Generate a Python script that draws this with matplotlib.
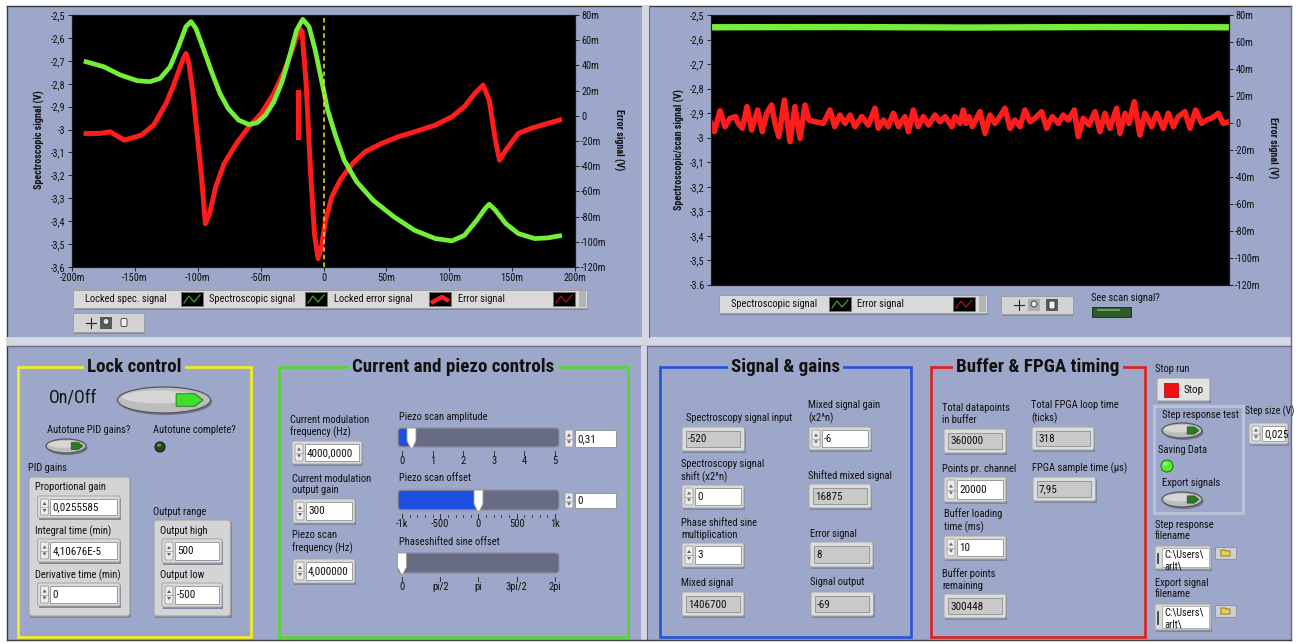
import matplotlib.pyplot as plt
from matplotlib import font_manager
from matplotlib.patches import Rectangle, FancyBboxPatch, Ellipse, Polygon, Circle

# ==========================================
# data
# ==========================================
# left chart: piezo scan (mV) -> spectroscopic signal (V) and error signal (mV)
spec_x = [-188.8, -174.6, -161.5, -148.0, -138.0, -130.0, -122.0, -115.3, -109.4, -105.4,
          -101.5, -95.6, -89.0, -82.4, -75.8, -67.5, -59.3, -52.7, -46.1, -39.5,
          -32.9, -26.4, -21.4, -16.5, -11.5, -6.6, -1.6, 3.3, 9.9, 16.5,
          26.4, 39.5, 56.0, 72.5, 89.0, 102.1, 112.0, 121.9, 128.5, 131.8,
          136.7, 145.0, 154.9, 168.0, 178.0, 187.8]
spec_v = [-2.704, -2.726, -2.762, -2.787, -2.791, -2.777, -2.726, -2.638, -2.551, -2.529,
          -2.558, -2.646, -2.748, -2.842, -2.908, -2.959, -2.978, -2.970, -2.937, -2.879,
          -2.791, -2.668, -2.566, -2.519, -2.551, -2.653, -2.784, -2.915, -3.032, -3.134,
          -3.228, -3.309, -3.381, -3.440, -3.476, -3.486, -3.462, -3.396, -3.345, -3.326,
          -3.352, -3.411, -3.454, -3.476, -3.473, -3.464]

err_x = [-188.8, -178.0, -169.7, -158.2, -145.0, -135.0, -125.2, -118.6, -112.0, -109.4,
         -107.0, -103.8, -100.5, -97.2, -93.9, -90.6, -85.7, -79.0, -69.2, -59.3,
         -49.4, -39.5, -29.7, -23.1, -19.1, -17.1, -13.8, -10.5, -7.2, -4.3,
         -1.6, 1.6, 6.6, 13.2, 23.1, 33.0, 46.1, 59.3, 72.5, 89.0,
         102.1, 112.0, 120.3, 126.9, 131.8, 136.7, 140.0, 145.0, 154.9, 164.7,
         178.0, 187.8]
err_mv = [-14.0, -14.0, -12.7, -19.3, -15.4, -7.4, 9.8, 25.7, 44.2, 49.5,
          41.6, 17.7, -14.0, -45.8, -85.6, -77.6, -56.4, -37.9, -22.0, -8.7,
          1.9, 17.7, 38.9, 57.5, 69.4, 66.8, 25.7, -40.5, -93.5, -113.4,
          -104.1, -82.9, -64.4, -51.1, -37.9, -28.6, -22.0, -16.7, -12.7, -7.4,
          -0.8, 7.2, 17.7, 24.4, 12.5, -19.3, -35.2, -27.3, -14.0, -10.1,
          -6.1, -3.4]

locked_err_x = [-20.0, -20.0]
locked_err_mv = [19.1, -16.7]

# right chart: locked signals vs sample index
lock_idx = [0, 6.4, 17.4, 27, 36.7, 47.6, 52.5, 60.5, 69.5, 78.5,
            90, 99, 107.5, 117, 123.5, 131, 141.5, 152.5, 162, 172,
            181.5, 189, 201, 217, 229.7, 239, 249, 259, 268.5, 278,
            291, 303.7, 316.6, 323, 333, 342, 352, 362, 374.5, 381,
            390.6, 400, 410, 420, 432.4, 442, 452, 465, 471, 480.7,
            487, 492, 498, 504.5, 519.3, 529, 538.6, 548.2, 557.9, 567.5,
            577.2, 586.8, 596.5, 606, 615.8, 625.4, 638.3, 648, 658.9, 670.5,
            680, 689.8, 701.4, 709, 718.7, 729.7, 741.3, 751, 760.6, 770.2,
            783, 789.5, 799.2, 807, 817.2, 828, 837.8, 850.7, 860.3, 873.2,
            882.8, 892.5, 902, 915, 924.7, 935.6, 947.2, 956.8, 966.5, 979.3,
            989, 1000]
lock_err_mv = [-0.3, -6.4, 9.1, -2.7, 3.4, 4.7, -0.3, -3.9, 12.1, -5.2,
               9.6, -6.4, 7.2, 13.3, -0.3, -10.1, 17.0, -13.8, 12.1, -11.4,
               13.3, 2.2, 1.0, -0.3, 9.6, -2.7, 5.9, -0.3, 5.9, -2.7,
               4.7, -1.5, 10.9, -3.9, 2.2, -2.7, 7.2, -2.7, 4.7, -6.4,
               9.6, -2.7, 4.7, -1.5, 5.9, 1.0, 4.7, -2.7, 4.7, -0.3,
               9.6, -0.3, 4.7, -2.7, 8.4, -7.7, 5.9, -0.3, 4.7, 10.9,
               -3.9, 2.2, -2.7, 9.6, 1.0, 3.5, 8.4, -3.9, 4.7, -0.3,
               5.9, 2.2, 9.6, -10.1, 3.5, -1.5, 8.4, -6.4, 7.2, -3.9,
               10.9, -7.7, 7.2, -0.3, 15.8, -8.9, 7.2, -2.7, 7.2, -3.9,
               7.2, -2.7, 4.7, 8.4, -3.9, 9.6, -0.3, 2.2, 3.5, 7.2,
               -0.3, 1.0]
lock_spec_idx = [0, 250, 500, 750, 1000]
lock_spec_v = [-2.550, -2.549, -2.551, -2.549, -2.550]

# axis ticks
scan_ticks = [-200, -150, -100, -50, 0, 50, 100, 150, 200]
scan_tick_labels = ['-200m', '-150m', '-100m', '-50m', '0', '50m', '100m', '150m', '200m']
spec_ticks = [-2.5, -2.6, -2.7, -2.8, -2.9, -3.0, -3.1, -3.2, -3.3, -3.4, -3.5, -3.6]
spec_tick_labels = ['-2,5', '-2,6', '-2,7', '-2,8', '-2,9', '-3', '-3,1', '-3,2', '-3,3',
                    '-3,4', '-3,5', '-3,6']
spec_tick_labels_r = spec_tick_labels[:-1] + ['-3.6']
err_ticks = [80, 60, 40, 20, 0, -20, -40, -60, -80, -100, -120]
err_tick_labels = ['80m', '60m', '40m', '20m', '0', '-20m', '-40m', '-60m', '-80m',
                   '-100m', '-120m']

# slider settings
amp_value = 0.31
amp_ticks = [0, 1, 2, 3, 4, 5]
offset_value = 0
offset_ticks = [-1000, -500, 0, 500, 1000]
offset_labels = ['-1k', '-500', '0', '500', '1k']
phase_value = 0
phase_ticks = [0, 0.25, 0.5, 0.75, 1.0]
phase_labels = ['0', 'pi/2', 'pi', '3pi/2', '2pi']

# ==========================================
# fonts: LabVIEW uses a narrow UI face, take the narrowest one installed
# ==========================================
installed = {f.name for f in font_manager.fontManager.ttflist}
if 'Liberation Sans Narrow' in installed:
    FONT, FS = 'Liberation Sans Narrow', 7.8
elif 'Roboto Condensed' in installed:
    FONT, FS = 'Roboto Condensed', 7.6
else:
    FONT, FS = 'Roboto', 6.9
plt.rcParams['font.family'] = [FONT, 'DejaVu Sans']

W, H = 1299, 643
PANEL = '#9DA7C9'
SEP = '#D5D7E1'
GREEN = '#74EE38'
RED = '#FF1C1C'

fig = plt.figure(figsize=(W / 100, H / 100), dpi=100)
bg = fig.add_axes([0, 0, 1, 1], zorder=0)
bg.set_xlim(0, W)
bg.set_ylim(H, 0)
bg.axis('off')


def rect(x0, y0, x1, y1, fc, ec='none', lw=0.8, r=0, z=1):
    if r:
        p = FancyBboxPatch((x0, y0), x1 - x0, y1 - y0,
                           boxstyle='round,pad=0,rounding_size=%g' % r,
                           fc=fc, ec=ec, lw=lw, zorder=z)
    else:
        p = Rectangle((x0, y0), x1 - x0, y1 - y0, fc=fc, ec=ec, lw=lw, zorder=z)
    bg.add_patch(p)
    return p


def txt(x, y, s, size=None, **kw):
    kw.setdefault('va', 'center')
    kw.setdefault('ha', 'left')
    kw.setdefault('color', '#111111')
    return bg.text(x, y, s, fontsize=size or FS, linespacing=1.2, zorder=6, **kw)


def spin(x0, y0, y1):
    # up/down arrow buttons
    rect(x0, y0, x0 + 8, y1, '#ECECEC', '#9E9E9E', 0.6, r=1, z=4)
    ym = (y0 + y1) / 2
    bg.plot([x0, x0 + 8], [ym, ym], color='#9E9E9E', lw=0.5, zorder=5)
    bg.add_patch(Polygon([(x0 + 2, ym - 2), (x0 + 6, ym - 2), (x0 + 4, ym - 5)],
                         fc='#606060', ec='none', zorder=5))
    bg.add_patch(Polygon([(x0 + 2, ym + 2), (x0 + 6, ym + 2), (x0 + 4, ym + 5)],
                         fc='#606060', ec='none', zorder=5))


def field(x0, y0, x1, y1, text, fc):
    f = rect(x0, y0, x1, y1, fc, '#8E8E8E', 0.6, z=4)
    t = txt(x0 + 2, (y0 + y1) / 2 + 0.5, text, size=FS + 0.4)
    t.set_clip_path(f)


def numctrl(x0, y0, x1, y1, text):
    rect(x0 + 1.5, y0 + 1.5, x1 + 1.5, y1 + 1.5, '#7F879F', z=2)
    rect(x0, y0, x1, y1, '#DADADA', '#A6A6A6', 0.7, r=2, z=3)
    spin(x0 + 3, y0 + 3, y1 - 3)
    field(x0 + 13, y0 + 3, x1 - 3, y1 - 3, text, 'white')


def indicator(x0, y0, x1, y1, text):
    rect(x0 + 1.5, y0 + 1.5, x1 + 1.5, y1 + 1.5, '#7F879F', z=2)
    rect(x0, y0, x1, y1, '#DCDCDC', '#A6A6A6', 0.7, r=2, z=3)
    field(x0 + 4, y0 + 4, x1 - 4, y1 - 4, text, '#C9C9C9')


def small_num(x0, y0, x1, y1, text):
    spin(x0, y0, y1)
    field(x0 + 10, y0, x1, y1, text, 'white')


def toggle(cx, cy, w, h, arrow):
    bg.add_patch(Ellipse((cx + 1.5, cy + 2), w, h, fc='#6E7590', ec='none', zorder=3))
    bg.add_patch(Ellipse((cx, cy), w, h, fc='#BDBDBD', ec='#555555', lw=0.9, zorder=4))
    bg.add_patch(Ellipse((cx - w * 0.05, cy - h * 0.12), w * 0.8, h * 0.5,
                         fc='#D6D6D6', ec='none', zorder=4))
    a0, a1, ah = cx + w * 0.13, cx + w * 0.42, h * 0.24
    bg.add_patch(Polygon([(a0, cy - ah), (a1 - ah * 1.3, cy - ah), (a1, cy),
                          (a1 - ah * 1.3, cy + ah), (a0, cy + ah)],
                         fc=arrow, ec='#1C4F14', lw=0.5, zorder=5))


def led(cx, cy, r, fc, ec):
    bg.add_patch(Circle((cx, cy), r, fc=fc, ec=ec, lw=0.8, zorder=4))
    bg.add_patch(Ellipse((cx - r * 0.2, cy - r * 0.35), r * 0.9, r * 0.6,
                         fc='white', alpha=0.35, ec='none', zorder=5))


def slider(x0, y0, x1, y1, vmin, vmax, value, ticks, labels, minor=None):
    p0, p1 = 402, 555

    def pos(v):
        return p0 + (v - vmin) / (vmax - vmin) * (p1 - p0)

    rect(x0, y0, x1, y1, '#686B84', '#8C8FA6', 0.8, r=3, z=3)
    xv = pos(value)
    if xv > x0 + 2:
        rect(x0 + 1, y0 + 1, xv, y1 - 1, '#1D4FE2', r=2, z=4)
    bg.add_patch(Polygon([(xv - 4.5, y0), (xv + 4.5, y0), (xv + 4.5, y1 - 6),
                          (xv + 1, y1 + 1), (xv - 1, y1 + 1), (xv - 4.5, y1 - 6)],
                         closed=True, fc='white', ec='#9A9A9A', lw=0.6, zorder=5))
    if minor is not None:
        for m in minor:
            bg.plot([pos(m), pos(m)], [y1 + 5, y1 + 7], color='#333333', lw=0.6, zorder=4)
    for t, lab in zip(ticks, labels):
        bg.plot([pos(t), pos(t)], [y1 + 4, y1 + 8], color='#333333', lw=0.7, zorder=4)
        txt(pos(t), y1 + 14, lab, ha='center')


def group(x0, y0, x1, y1, color, title):
    rect(x0, y0, x1, y1, 'none', color, 1.9, z=2)
    txt((x0 + x1) / 2, y0, title, size=FS * 1.8, ha='center', fontweight='bold',
        bbox=dict(fc=PANEL, ec='none', pad=2.5))


def legend_icon(x0, y0, kind):
    rect(x0, y0, x0 + 22, y0 + 14, 'black', '#777777', 0.5, z=4)
    if kind == 'zig':
        bg.plot([x0 + 3, x0 + 8, x0 + 13, x0 + 19], [y0 + 11, y0 + 4, y0 + 10, y0 + 3],
                color='#3FA22C', lw=0.9, zorder=5)
    elif kind == 'zig_red':
        bg.plot([x0 + 3, x0 + 8, x0 + 13, x0 + 19], [y0 + 11, y0 + 4, y0 + 10, y0 + 3],
                color='#B21313', lw=0.9, zorder=5)
    else:
        bg.plot([x0 + 2, x0 + 13, x0 + 20], [y0 + 11, y0 + 5, y0 + 9],
                color=RED, lw=3.2, zorder=5, solid_capstyle='butt')


def legend_bar(x0, y0, x1, y1, items):
    rect(x0 + 1, y0 + 1.5, x1 + 1, y1 + 1.5, '#7F879F', z=2)
    rect(x0, y0, x1, y1, '#D9D9D9', '#A0A0A0', 0.7, z=3)
    rect(x1 - 8, y0 + 1, x1 - 1, y1 - 1, '#B4B4B4', z=3)
    for tx, label, ix, kind in items:
        txt(tx, (y0 + y1) / 2, label)
        legend_icon(ix, (y0 + y1) / 2 - 7, kind)


def tool_palette(x0, y0, x1, y1, hand_on):
    rect(x0 + 1, y0 + 1.5, x1 + 1, y1 + 1.5, '#7F879F', z=2)
    rect(x0, y0, x1, y1, '#D2D2D2', '#A0A0A0', 0.7, z=3)
    cy = (y0 + y1) / 2
    cx = x0 + 18
    bg.plot([cx - 5, cx + 5], [cy, cy], color='#222222', lw=0.8, zorder=5)
    bg.plot([cx, cx], [cy - 5, cy + 5], color='#222222', lw=0.8, zorder=5)
    zx = x0 + 33
    rect(zx - 6, cy - 6, zx + 6, cy + 6, '#B0B0B0' if hand_on else '#5A5A5A', z=4)
    bg.add_patch(Circle((zx, cy - 1), 3, fc='#DDE8DD', ec='#333333', lw=0.6, zorder=5))
    hx = x0 + 51
    rect(hx - 6, cy - 6, hx + 6, cy + 6, '#5A5A5A' if hand_on else '#D2D2D2', z=4)
    rect(hx - 3, cy - 4, hx + 3, cy + 4, '#F0F0F0', '#333333', 0.6, r=1.5, z=5)


def folder_button(x0, y0):
    rect(x0, y0, x0 + 21, y0 + 12, '#CFCFCF', '#8E8E8E', 0.6, z=4)
    bg.add_patch(Polygon([(x0 + 6, y0 + 9), (x0 + 6, y0 + 3), (x0 + 10, y0 + 3),
                          (x0 + 11, y0 + 4), (x0 + 15, y0 + 4), (x0 + 15, y0 + 9)],
                         fc='#F0D040', ec='#6A5A10', lw=0.5, zorder=5))


def path_ctrl(x0, y0, x1, y1, text):
    rect(x0 + 1.5, y0 + 1.5, x1 + 1.5, y1 + 1.5, '#7F879F', z=2)
    rect(x0, y0, x1, y1, '#DADADA', '#A6A6A6', 0.7, r=2, z=3)
    f = rect(x0 + 7, y0 + 2, x1 - 2, y1 - 2, 'white', '#9A9A9A', 0.5, z=4)
    bg.plot([x0 + 3.5, x0 + 3.5], [y0 + 8, y1 - 6], color='#333333', lw=1.2, zorder=5)
    t = txt(x0 + 9, y0 + 4, text, size=FS, va='top')
    t.set_clip_path(f)


# ==========================================
# panel background and separators
# ==========================================
rect(0, 0, W, H, 'white', z=0)
rect(7, 6, 1291, 640, PANEL, z=0)
bg.plot([7, 1291], [6, 6], color='#3A3A3A', lw=1, zorder=1)
bg.plot([7, 7], [6, 640], color='#3A3A3A', lw=1, zorder=1)
rect(7, 337, 1291, 346, SEP, z=1)
bg.plot([7, 1291], [346, 346], color='#656A82', lw=1, zorder=1)
rect(642, 6, 649, 337, SEP, z=1)
rect(641, 346, 647, 640, SEP, z=1)
bg.plot([649, 649], [6, 337], color='#656A82', lw=0.8, zorder=1)
bg.plot([647, 647], [346, 640], color='#656A82', lw=0.8, zorder=1)
bg.plot([1291, 1291], [6, 640], color='#656A82', lw=1, zorder=1)
bg.plot([7, 1291], [640, 640], color='#404040', lw=1, zorder=1)


# ==========================================
# charts
# ==========================================
def chart(x0, y0, x1, y1):
    ax = fig.add_axes([x0 / W, 1 - y1 / H, (x1 - x0) / W, (y1 - y0) / H], zorder=2)
    axr = ax.twinx()
    axr.patch.set_visible(True)
    axr.set_facecolor('black')
    ax.set_zorder(axr.get_zorder() + 1)
    ax.patch.set_visible(False)
    for a in (ax, axr):
        for s in a.spines.values():
            s.set_color('#1A1A1A')
            s.set_linewidth(0.8)
        a.tick_params(direction='out', length=3, width=0.7, color='#222222',
                      labelsize=FS - 0.2, pad=1.5, labelcolor='#111111')
    return ax, axr


axL, axLr = chart(72, 15, 575, 267)
axLr.plot(err_x, err_mv, color=RED, lw=3.6, solid_joinstyle='round')
axLr.plot(locked_err_x, locked_err_mv, color=RED, lw=3.6)
axL.plot(spec_x, spec_v, color=GREEN, lw=3.4, solid_joinstyle='round')
axL.axvline(0, color='#F4E21A', lw=1.1, ls=(0, (3, 2)))
axL.set_xlim(-200, 200)
axL.set_ylim(-3.6, -2.5)
axLr.set_ylim(-120, 80)
axL.set_xticks(scan_ticks, scan_tick_labels)
axL.set_yticks(spec_ticks, spec_tick_labels)
axLr.set_yticks(err_ticks, err_tick_labels)

axR, axRr = chart(711, 15, 1229, 285)
axRr.plot(lock_idx, lock_err_mv, color=RED, lw=4.0, solid_joinstyle='round')
axR.plot(lock_spec_idx, lock_spec_v, color=GREEN, lw=4.6)
axR.set_xlim(0, 1000)
axR.set_ylim(-3.6, -2.5)
axRr.set_ylim(-120, 80)
axR.set_xticks([])
axR.set_yticks(spec_ticks, spec_tick_labels_r)
axRr.set_yticks(err_ticks, err_tick_labels)

axis_font = dict(size=FS - 0.4, fontweight='bold', ha='center')
txt(39, 140, 'Spectroscopic signal (V)', rotation=90, **axis_font)
txt(619, 140, 'Error signal (V)', rotation=270, **axis_font)
txt(679, 150, 'Spectroscopic/scan signal (V)', rotation=90, **axis_font)
txt(1273, 148, 'Error signal (V)', rotation=270, **axis_font)

legend_bar(73, 290, 587, 308, [
    (85, 'Locked spec. signal', 181, 'zig'),
    (209, 'Spectroscopic signal', 305, 'zig'),
    (334, 'Locked error signal', 429, 'thick'),
    (458, 'Error signal', 553, 'zig_red'),
])
tool_palette(73, 313, 144, 332, False)

legend_bar(719, 295, 987, 313, [
    (731, 'Spectroscopic signal', 829, 'zig'),
    (857, 'Error signal', 953, 'zig_red'),
])
tool_palette(1001, 296, 1073, 314, True)
txt(1091, 298, 'See scan signal?')
rect(1092, 307, 1131, 317, '#2F5B2A', '#1C361A', 0.7, z=4)
rect(1097, 309, 1120, 311, '#6E9A62', z=5)

# ==========================================
# Lock control
# ==========================================
group(18, 367, 251, 637, '#F4EE1C', 'Lock control')
txt(49, 397, 'On/Off', size=FS * 1.7)
toggle(164, 400, 93, 26, '#3DE02B')
txt(47, 430, 'Autotune PID gains?')
toggle(66, 446, 40, 14, '#2D7A22')
txt(153, 430, 'Autotune complete?')
led(160, 447, 5, '#1E4A1C', '#0E240E')
txt(28.5, 468, 'PID gains')
rect(30.5, 478.5, 131.5, 617.5, '#7F879F', z=2)
rect(29, 477, 130, 616, '#D4D4D4', '#A4A4A4', 0.8, r=3, z=2)
txt(35, 487, 'Proportional gain')
numctrl(37.5, 496, 120, 518, '0,0255585')
txt(35, 531, 'Integral time (min)')
numctrl(37.5, 539, 120, 562, '4,10676E-5')
txt(35, 575, 'Derivative time (min)')
numctrl(37.5, 583, 120, 606, '0')
txt(153, 512, 'Output range')
rect(155.5, 521.5, 232, 617.5, '#7F879F', z=2)
rect(154, 520, 230.5, 616, '#D4D4D4', '#A4A4A4', 0.8, r=3, z=2)
txt(160, 531, 'Output high')
numctrl(162, 539, 222, 563, '500')
txt(160, 575, 'Output low')
numctrl(162, 583, 222, 607, '-500')

# ==========================================
# Current and piezo controls
# ==========================================
group(279, 367, 628, 637, '#58D62E', 'Current and piezo controls')
txt(290.5, 426.5, 'Current modulation\nfrequency (Hz)')
numctrl(292, 441, 362, 464, '4000,0000')
txt(292, 484.5, 'Current modulation\noutput gain')
numctrl(293, 499, 355, 523, '300')
txt(292, 542, 'Piezo scan\nfrequency (Hz)')
numctrl(293, 559, 355, 583, '4,000000')

txt(398.6, 417, 'Piezo scan amplitude')
slider(398, 428, 559, 447, 0, 5, amp_value, amp_ticks, [str(t) for t in amp_ticks])
small_num(565, 430, 616, 447, '0,31')
txt(398.6, 478, 'Piezo scan offset')
slider(398, 490, 559, 510, -1000, 1000, offset_value, offset_ticks, offset_labels,
       minor=list(range(-1000, 1001, 100)))
small_num(565, 493, 616, 508, '0')
txt(398.6, 542, 'Phaseshifted sine offset')
slider(398, 553, 559, 573, 0, 1, phase_value, phase_ticks, phase_labels)

# ==========================================
# Signal & gains
# ==========================================
group(660, 367, 911, 637, '#2353DA', 'Signal & gains')
txt(686, 418, 'Spectroscopy signal input')
indicator(682, 427, 744.5, 451, '-520')
txt(808, 412, 'Mixed signal gain\n(x2^n)')
numctrl(809, 427, 871, 450, '-6')
txt(681.5, 471, 'Spectroscopy signal\nshift (x2^n)')
numctrl(682, 485, 744, 508, '0')
txt(808, 476, 'Shifted mixed signal')
indicator(809, 484, 871, 508, '16875')
txt(681.5, 529, 'Phase shifted sine\nmultiplication')
numctrl(682, 543, 744, 567, '3')
txt(810, 534, 'Error signal')
indicator(810, 542, 873, 567, '8')
txt(681.5, 583, 'Mixed signal')
indicator(682, 592, 744, 616, '1406700')
txt(810, 582, 'Signal output')
indicator(811, 592, 873.5, 616, '-69')

# ==========================================
# Buffer & FPGA timing
# ==========================================
group(931, 367, 1145, 637, '#E01E1E', 'Buffer & FPGA timing')
txt(942, 414, 'Total datapoints\nin buffer')
indicator(944, 429, 1006, 453, '360000')
txt(1031, 412, 'Total FPGA loop time\n(ticks)')
indicator(1032, 427, 1094, 450, '318')
txt(942, 469, 'Points pr. channel')
numctrl(944, 477, 1006, 502, '20000')
txt(1032.5, 468, 'FPGA sample time (µs)')
indicator(1033, 477, 1095.5, 501, '7,95')
txt(944, 520.5, 'Buffer loading\ntime (ms)')
numctrl(944, 536, 1006, 559, '10')
txt(942, 579.5, 'Buffer points\nremaining')
indicator(944, 594, 1006, 618, '300448')

# ==========================================
# run / export column
# ==========================================
txt(1155, 369, 'Stop run')
rect(1158.5, 379.5, 1211.5, 402.5, '#7F879F', z=2)
rect(1157, 378, 1210, 401, '#E2E2E2', '#A8A8A8', 0.8, r=2, z=3)
rect(1164, 383, 1178, 397, '#F01010', '#A00000', 0.5, z=4)
txt(1183.5, 390, 'Stop', size=FS + 0.4)

rect(1154, 406, 1243, 513, 'none', '#B9C0DA', 2.2, z=2)
txt(1162, 415, 'Step response test')
toggle(1182, 430.5, 40, 15, '#2D7A22')
txt(1158, 450, 'Saving Data')
led(1167, 466, 6, '#55EE2E', '#2A7A1A')
txt(1162, 483, 'Export signals')
toggle(1182, 499.5, 40, 15, '#2D7A22')

txt(1245, 411, 'Step size (V)', size=FS - 0.6)
numctrl(1249, 423, 1288, 444, '0,025')

txt(1155, 530.5, 'Step response\nfilename')
path_ctrl(1155, 546, 1211, 569, 'C:\\Users\\\narlt\\')
folder_button(1215, 547)
txt(1155, 588.5, 'Export signal\nfilename')
path_ctrl(1155, 604, 1211, 630, 'C:\\Users\\\narlt\\')
folder_button(1215, 605)

fig.savefig('out.png', dpi=100, facecolor='white')
